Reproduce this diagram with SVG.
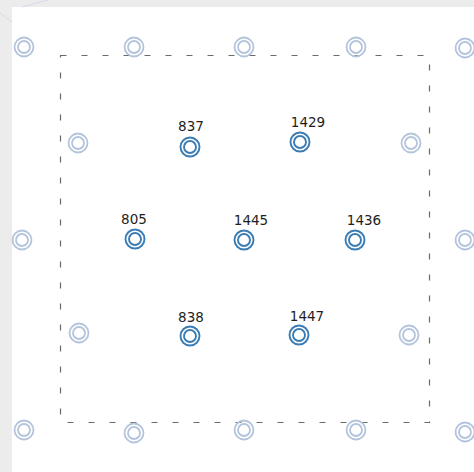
<svg xmlns="http://www.w3.org/2000/svg" width="474" height="472" viewBox="0 0 474 472">
<style>
.o{fill:none;stroke:#b4c4dc;stroke-width:1.8}
.i{fill:none;stroke:#b4c4dc;stroke-width:1.8}
.ao{fill:none;stroke:#3a7cb3;stroke-width:1.9}
.ai{fill:none;stroke:#3a7cb3;stroke-width:1.9}
.lbl{font-family:"DejaVu Sans",sans-serif;font-size:13.5px;fill:#1e1e1e}
</style>
<defs>
<g id="dim"><circle r="9.5" class="o"/><circle r="6" class="i"/></g>
<g id="act"><circle r="9.5" class="ao"/><circle r="6" class="ai"/></g>
</defs>
<rect x="0" y="0" width="474" height="472" fill="#ececec"/>
<rect x="12" y="7" width="462" height="465" fill="#ffffff"/>
<g id="bg-lines" stroke="#d5dbea" stroke-width="1" fill="none">
<path d="M0 13 L12 22"/>
<path d="M22 7 L48 0"/>
</g>
<g id="connectors">
<rect x="60.5" y="55.5" width="369" height="367" fill="none" stroke="#6a6a6a" stroke-width="1.2" stroke-dasharray="6 15"/>
</g>
<g id="n-t1"><use href="#dim" x="24" y="47"/></g>
<g id="n-t2"><use href="#dim" x="134" y="47"/></g>
<g id="n-t3"><use href="#dim" x="244" y="47"/></g>
<g id="n-t4"><use href="#dim" x="356" y="47"/></g>
<g id="n-t5"><use href="#dim" x="465" y="48"/></g>
<g id="n-r2a"><use href="#dim" x="78" y="143"/></g>
<g id="n-837"><use href="#act" x="190" y="147"/><text class="lbl" x="191" y="131" text-anchor="middle">837</text></g>
<g id="n-1429"><use href="#act" x="300" y="142"/><text class="lbl" x="308" y="127" text-anchor="middle">1429</text></g>
<g id="n-r2d"><use href="#dim" x="411" y="143"/></g>
<g id="n-r3a"><use href="#dim" x="22" y="240"/></g>
<g id="n-805"><use href="#act" x="135" y="239"/><text class="lbl" x="134" y="224" text-anchor="middle">805</text></g>
<g id="n-1445"><use href="#act" x="244" y="240"/><text class="lbl" x="251" y="225" text-anchor="middle">1445</text></g>
<g id="n-1436"><use href="#act" x="355" y="240"/><text class="lbl" x="364" y="225" text-anchor="middle">1436</text></g>
<g id="n-r3e"><use href="#dim" x="465" y="240"/></g>
<g id="n-r4a"><use href="#dim" x="79" y="333"/></g>
<g id="n-838"><use href="#act" x="190" y="336"/><text class="lbl" x="191" y="322" text-anchor="middle">838</text></g>
<g id="n-1447"><use href="#act" x="299" y="335"/><text class="lbl" x="307" y="321" text-anchor="middle">1447</text></g>
<g id="n-r4d"><use href="#dim" x="409" y="335"/></g>
<g id="n-b1"><use href="#dim" x="24" y="430"/></g>
<g id="n-b2"><use href="#dim" x="134" y="433"/></g>
<g id="n-b3"><use href="#dim" x="244" y="430"/></g>
<g id="n-b4"><use href="#dim" x="356" y="430"/></g>
<g id="n-b5"><use href="#dim" x="465" y="432"/></g>
</svg>
